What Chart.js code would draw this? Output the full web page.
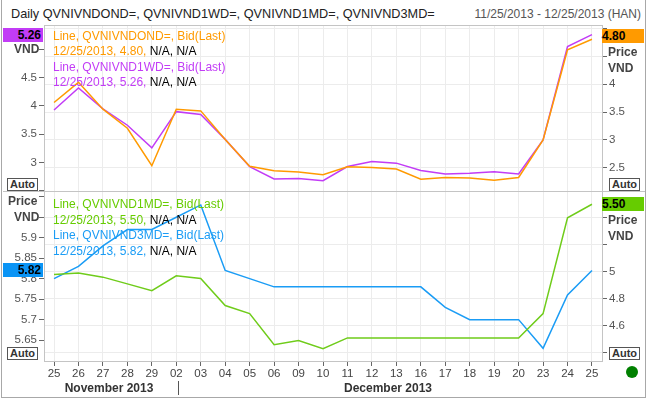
<!DOCTYPE html>
<html>
<head>
<meta charset="utf-8">
<script src="https://cdn.jsdelivr.net/npm/chart.js@4.4.1/dist/chart.umd.min.js"></script>
<style>
  body { margin: 0; background: #fff; font-family: "Liberation Sans", Arial, sans-serif; }
  #quadro { position: relative; width: 646px; height: 400px; overflow: hidden; background: #fff; }
  .abs { position: absolute; white-space: nowrap; line-height: 14px; }
  .leg { font-size: 12px; }
  .preto { color: #000; }
  .rot { font-size: 12px; font-weight: bold; color: #444; }
  .caixa { font-size: 12px; font-weight: bold; color: #000; height: 14px; line-height: 14px; }
  .auto { font-size: 11px; font-weight: bold; color: #333; border: 1px solid #555; width: 29px; height: 11px; line-height: 11px; text-align: center; background: #fff; }
  canvas { position: absolute; left: 0; }
</style>
</head>
<body>
<div id="quadro">
  <!-- moldura -->
  <div class="abs" style="left:1px;top:0;width:643px;height:397px;border:1px solid #a8a8a8;border-top:none;"></div>
  <div class="abs" style="left:11px;top:7px;font-size:12.7px;color:#222;">Daily QVNIVNDOND=, QVNIVND1WD=, QVNIVND1MD=, QVNIVND3MD=</div>
  <div class="abs" style="right:5px;top:7px;font-size:12px;color:#555;">11/25/2013 - 12/25/2013 (HAN)</div>

  <canvas id="graficoTopo" width="646" height="166" style="top:25px;"></canvas>
  <canvas id="graficoBase" width="646" height="209" style="top:191px;"></canvas>

  <!-- bordas da area do grafico -->
  <div class="abs" style="left:44px;top:25px;width:557px;height:335px;border:1px solid #c4c4c4;"></div>
  <div class="abs" style="left:3px;top:191px;width:642px;height:0;border-top:1px solid #c4c4c4;"></div>

  <!-- painel de cima -->
  <div class="abs caixa" style="left:3px;top:28px;width:38px;padding-right:2px;text-align:right;background:#c23cf6;">5.26</div>
  <div class="abs rot" style="left:14px;top:42px;">VND</div>
  <div class="abs caixa" style="left:602px;top:29px;width:42px;background:#ff9a00;">4.80</div>
  <div class="abs rot" style="left:608px;top:45px;">Price</div>
  <div class="abs rot" style="left:608px;top:61px;">VND</div>
  <div class="abs auto" style="left:7px;top:178px;">Auto</div>
  <div class="abs auto" style="left:609px;top:178px;">Auto</div>

  <div class="abs leg" style="left:53px;top:29px;color:#ff9a00;">Line, QVNIVNDOND=, Bid(Last)</div>
  <div class="abs leg" style="left:53px;top:44px;color:#ff9a00;">12/25/2013, 4.80, <span class="preto">N/A, N/A</span></div>
  <div class="abs leg" style="left:53px;top:60px;color:#c23cf6;">Line, QVNIVND1WD=, Bid(Last)</div>
  <div class="abs leg" style="left:53px;top:75px;color:#c23cf6;">12/25/2013, 5.26, <span class="preto">N/A, N/A</span></div>

  <!-- painel de baixo -->
  <div class="abs rot" style="left:8px;top:194px;">Price</div>
  <div class="abs rot" style="left:14px;top:210px;">VND</div>
  <div class="abs caixa" style="left:3px;top:263px;width:38px;padding-right:2px;text-align:right;background:#0a94f5;">5.82</div>
  <div class="abs caixa" style="left:602px;top:197px;width:42px;background:#66cc00;">5.50</div>
  <div class="abs rot" style="left:608px;top:213px;">Price</div>
  <div class="abs rot" style="left:608px;top:229px;">VND</div>
  <div class="abs auto" style="left:7px;top:347px;">Auto</div>
  <div class="abs auto" style="left:609px;top:347px;">Auto</div>

  <div class="abs leg" style="left:53px;top:197px;color:#66cc00;">Line, QVNIVND1MD=, Bid(Last)</div>
  <div class="abs leg" style="left:53px;top:213px;color:#66cc00;">12/25/2013, 5.50, <span class="preto">N/A, N/A</span></div>
  <div class="abs leg" style="left:53px;top:228px;color:#1a9cf5;">Line, QVNIVND3MD=, Bid(Last)</div>
  <div class="abs leg" style="left:53px;top:244px;color:#1a9cf5;">12/25/2013, 5.82, <span class="preto">N/A, N/A</span></div>

  <!-- meses -->
  <div class="abs" style="left:109px;top:381px;transform:translateX(-50%);font-size:12px;font-weight:bold;color:#333;">November 2013</div>
  <div class="abs" style="left:178px;top:381px;width:0;height:14px;border-left:1px solid #555;"></div>
  <div class="abs" style="left:388px;top:381px;transform:translateX(-50%);font-size:12px;font-weight:bold;color:#333;">December 2013</div>
  <div class="abs" style="left:626px;top:366px;width:12px;height:12px;border-radius:50%;background:#008000;"></div>
</div>

<script>
// Dias (25 nov - 25 dez 2013)
const dias = ["25", "26", "27", "28", "29", "02", "03", "04", "05", "06", "09", "10", "11", "12", "13", "16", "17", "18", "19", "20", "23", "24", "25"];

// QVNIVNDOND= (eixo direito, painel de cima)
const overnight = [3.67, 4.03, 3.55, 3.21, 2.54, 3.55, 3.52, 3.01, 2.53, 2.45, 2.43, 2.38, 2.52, 2.51, 2.48, 2.30, 2.33, 2.32, 2.28, 2.33, 3.00, 4.61, 4.80];
// QVNIVND1WD= (eixo esquerdo, painel de cima)
const umaSemana = [3.93, 4.32, 3.95, 3.66, 3.26, 3.90, 3.85, 3.41, 2.93, 2.71, 2.72, 2.68, 2.93, 3.02, 2.99, 2.86, 2.80, 2.81, 2.84, 2.80, 3.40, 5.05, 5.26];
// QVNIVND1MD= (eixo direito, painel de baixo)
const umMes = [4.98, 4.99, 4.96, 4.91, 4.86, 4.97, 4.95, 4.75, 4.69, 4.46, 4.49, 4.43, 4.51, 4.51, 4.51, 4.51, 4.51, 4.51, 4.51, 4.51, 4.69, 5.40, 5.50];
// QVNIVND3MD= (eixo esquerdo, painel de baixo)
const tresMeses = [5.80, 5.83, 5.88, 5.92, 5.92, 5.95, 5.98, 5.82, 5.80, 5.78, 5.78, 5.78, 5.78, 5.78, 5.78, 5.78, 5.73, 5.70, 5.70, 5.70, 5.63, 5.76, 5.82];

// Marcas dos eixos
const ticksTopoEsq = [2.5, 3, 3.5, 4, 4.5, 5];
const ticksTopoDir = [2.5, 3, 3.5, 4, 4.5, 5];
const ticksBaseEsq = [5.65, 5.7, 5.75, 5.8, 5.85, 5.9, 5.95, 6];
const ticksBaseDir = [4.4, 4.6, 4.8, 5, 5.2, 5.4];

// rotulos que ficam escondidos atras de Price/VND/Auto
const ocultosTopoEsq = [2.5, 5];
const ocultosTopoDir = [4.5, 5];
const ocultosBaseEsq = [5.95, 6];
const ocultosBaseDir = [4.4, 5.2, 5.4];

const COR_GRADE = "#ececec";
const COR_TICK = "#666";
const fonteEixo = { family: "Liberation Sans", size: 11.5 };

function pontos(valores) {
  return valores.map((v, i) => ({ x: i, y: v }));
}

function fixarTicks(lista) {
  return scale => { scale.ticks = lista.map(v => ({ value: v })); };
}

function eixoY(posicao, min, max, lista, ocultos, grade) {
  return {
    type: "linear",
    position: posicao,
    min: min,
    max: max,
    afterBuildTicks: fixarTicks(lista),
    afterFit: scale => {
      scale.width = 44;
      scale.paddingTop = 0;
      scale.paddingBottom = 0;
    },
    border: { display: false },
    grid: { drawOnChartArea: grade, color: COR_GRADE, tickColor: COR_TICK, tickLength: 5 },
    ticks: {
      padding: 2,
      color: "#555",
      font: fonteEixo,
      callback: v => ocultos.includes(v) ? "" : String(v)
    }
  };
}

function eixoX(mostrar) {
  return {
    type: "linear",
    min: -0.41,
    max: 22.41,
    afterBuildTicks: fixarTicks(dias.map((d, i) => i)),
    afterFit: scale => {
      scale.height = mostrar ? 39 : 0;
      scale.paddingLeft = 0;
      scale.paddingRight = 0;
    },
    border: { display: false },
    grid: { color: COR_GRADE, tickColor: COR_TICK, drawTicks: mostrar, tickLength: 5 },
    ticks: {
      display: mostrar,
      padding: 1,
      maxRotation: 0,
      autoSkip: false,
      color: "#444",
      font: fonteEixo,
      callback: v => dias[v]
    }
  };
}

function linha(rotulo, valores, cor, eixo) {
  return {
    label: rotulo,
    data: pontos(valores),
    borderColor: cor,
    borderWidth: 1.5,
    pointRadius: 0,
    tension: 0,
    yAxisID: eixo
  };
}

const opcoesBase = {
  responsive: false,
  animation: false,
  layout: { padding: 0 },
  plugins: { legend: { display: false }, tooltip: { enabled: false } }
};

new Chart(document.getElementById("graficoTopo"), {
  type: "line",
  data: {
    datasets: [
      linha("QVNIVNDOND=", overnight, "#ff9a00", "yDir"),
      linha("QVNIVND1WD=", umaSemana, "#c23cf6", "yEsq")
    ]
  },
  options: {
    ...opcoesBase,
    scales: {
      x: eixoX(false),
      yEsq: eixoY("left", 2.498, 5.431, ticksTopoEsq, ocultosTopoEsq, false),
      yDir: eixoY("right", 2.089, 5.054, ticksTopoDir, ocultosTopoDir, true)
    }
  }
});

new Chart(document.getElementById("graficoBase"), {
  type: "line",
  data: {
    datasets: [
      linha("QVNIVND1MD=", umMes, "#6fcc1a", "yDir"),
      linha("QVNIVND3MD=", tresMeses, "#1a9cf5", "yEsq")
    ]
  },
  options: {
    ...opcoesBase,
    scales: {
      x: eixoX(true),
      yEsq: eixoY("left", 5.599, 6.014, ticksBaseEsq, ocultosBaseEsq, false),
      yDir: eixoY("right", 4.339, 5.598, ticksBaseDir, ocultosBaseDir, true)
    }
  }
});
</script>
</body>
</html>
